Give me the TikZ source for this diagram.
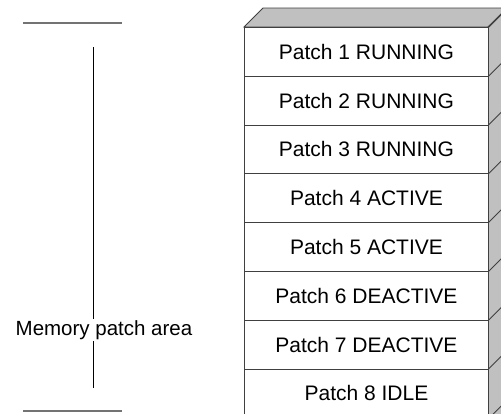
\documentclass[tikz,border=0pt]{standalone}
\usepackage{fontspec}
\setmainfont{Liberation Sans}
\definecolor{facegray}{HTML}{C0C0C0}
\definecolor{edgegray}{HTML}{404040}
\begin{document}
\begin{tikzpicture}[x=1pt,y=-1pt,
  patch/.style={draw=edgegray,line width=0.9pt,fill=white,minimum width=244pt,minimum height=48.8pt,inner sep=0pt,font=\fontsize{21}{24}\selectfont,anchor=north west},
  face/.style={draw=edgegray,line width=0.9pt,fill=facegray},
  limit/.style={draw=black!55,line width=1.4pt},
  dimline/.style={draw=black,line width=0.9pt}]
\useasboundingbox (0,0) rectangle (501,413);
\begin{scope}
\clip (0,0) rectangle (501,413);
\path[face] (244,27) -- (263,8) -- (510,8) -- (488,27) -- cycle;
\path[face] (488,27) -- (510,5) -- (510,420) -- (488,420) -- cycle;
\foreach \i/\t in {1/Patch 1 RUNNING,2/Patch 2 RUNNING,3/Patch 3 RUNNING,4/Patch 4 ACTIVE,5/Patch 5 ACTIVE,6/Patch 6 DEACTIVE,7/Patch 7 DEACTIVE,8/Patch 8 IDLE}{
  \node[patch] (p\i) at (244,{27+48.8*(\i-1)}) {\t};
  \draw[draw=edgegray,line width=0.9pt] (p\i.north east) -- ++(22,-22);
}
\draw[draw=edgegray,line width=0.9pt] (p8.south east) -- ++(22,-22);
\end{scope}
\coordinate (tl) at (23,23);
\coordinate (tr) at (122,23);
\coordinate (bl) at (23,411);
\coordinate (br) at (122,411);
\draw[limit] (tl) -- (tr);
\draw[limit] (bl) -- (br);
\node[font=\fontsize{20.5}{24}\selectfont,inner sep=1.5pt] (lab) at (104,330) {Memory patch area};
\coordinate (vt) at (93,47);
\coordinate (vb) at (93,388);
\draw[dimline] (vt) -- (vt |- lab.north);
\draw[dimline] (vt |- lab.south) -- (vb);
\end{tikzpicture}
\end{document}
